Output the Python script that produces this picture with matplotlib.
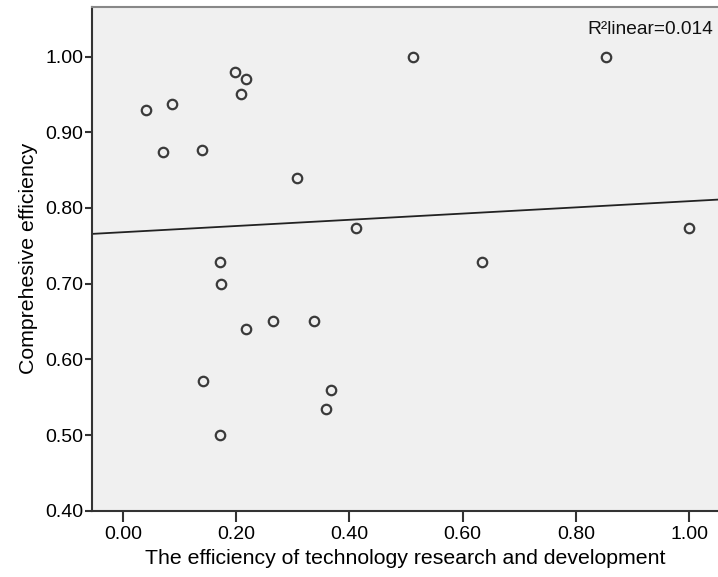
import matplotlib
matplotlib.use('Agg')
import matplotlib.pyplot as plt

plt.rcParams['font.family'] = ['Liberation Sans', 'DejaVu Sans']

# R&D efficiency vs comprehensive efficiency
rd_eff = [0.041, 0.087, 0.071, 0.140, 0.198, 0.217, 0.208, 0.307,
          0.171, 0.173, 0.218, 0.265, 0.337, 0.141, 0.367, 0.358,
          0.172, 0.411, 0.635, 1.000, 0.513, 0.854]
comp_eff = [0.929, 0.938, 0.874, 0.877, 0.980, 0.970, 0.951, 0.839,
            0.729, 0.700, 0.640, 0.651, 0.651, 0.571, 0.559, 0.534,
            0.500, 0.774, 0.728, 0.774, 1.000, 1.000]

# linear fit line
fit_intercept = 0.768
fit_slope = 0.041
r2_label = 'R²linear=0.014'

xticks = [0.0, 0.2, 0.4, 0.6, 0.8, 1.0]
yticks = [0.4, 0.5, 0.6, 0.7, 0.8, 0.9, 1.0]

fig = plt.figure(figsize=(7.18, 5.77), dpi=100)
ax = fig.add_axes([0.1276, 0.1149, 1.0 - 0.1276, 0.9884 - 0.1149])
ax.set_facecolor('#f0f0f0')

xmin, xmax = -0.055, 1.051
ax.plot([xmin, xmax], [fit_intercept + fit_slope * xmin, fit_intercept + fit_slope * xmax],
        color='#222222', lw=1.3, zorder=2)
ax.plot(rd_eff, comp_eff, 'o', mfc='none', mec='#3a3a3a', mew=1.6, ms=6.8, zorder=3)

ax.set_xlim(xmin, xmax)
ax.set_ylim(0.40, 1.066)
ax.set_xticks(xticks)
ax.set_xticklabels(['%.2f' % v for v in xticks])
ax.set_yticks(yticks)
ax.set_yticklabels(['%.2f' % v for v in yticks])
ax.tick_params(axis='x', length=8, width=1.5, color='#333333', labelsize=14, pad=3)
ax.tick_params(axis='y', length=5, width=1.5, color='#333333', labelsize=14, pad=1)

for s in ['left', 'bottom']:
    ax.spines[s].set_color('#333333')
    ax.spines[s].set_linewidth(1.5)
ax.spines['top'].set_color('#888888')
ax.spines['top'].set_linewidth(1.5)
ax.spines['right'].set_visible(False)

ax.set_xlabel('The efficiency of technology research and development', fontsize=15.3, labelpad=4)
ax.set_ylabel('Comprehesive efficiency', fontsize=15.3, labelpad=5)

ax.text(0.992, 0.955, r2_label, transform=ax.transAxes, ha='right', va='center',
        fontsize=13.8, color='#111111')

fig.savefig('out.png', dpi=100)
